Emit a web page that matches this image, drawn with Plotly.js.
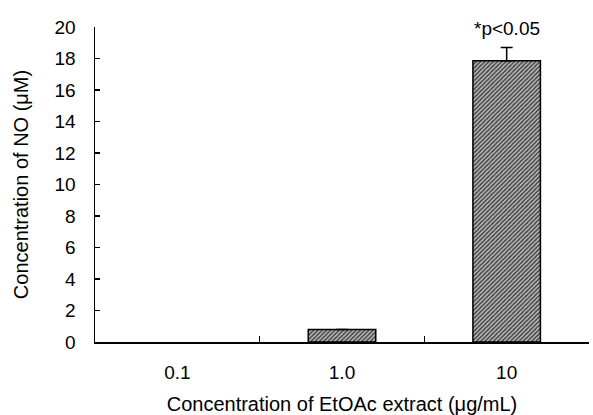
<!DOCTYPE html>
<html>
<head>
<meta charset="utf-8">
<script src="https://cdn.plot.ly/plotly-3.0.1.min.js"></script>
<style>html,body{margin:0;padding:0;background:#fff;}#chart{width:593px;height:415px;}</style>
</head>
<body>
<div id="chart"></div>
<script>
const categories = ["0.1", "1.0", "10"];
const noValues = [0, 0.8, 17.85];
const errValues = [0, 0, 0.85];
const yTicks = [0, 2, 4, 6, 8, 10, 12, 14, 16, 18, 20];
const sigLabel = "*p<0.05";
const xTitle = "Concentration of EtOAc extract (μg/mL)";
const yTitle = "Concentration of NO (μM)";

const font = "Liberation Sans, Arial, sans-serif";
const sigIndex = categories.length - 1;

const trace = {
  type: "bar",
  x: categories,
  y: noValues.map(v => v > 0 ? v : null),
  width: 0.41,
  marker: {
    color: "#9a9a9a",
    line: {color: "#000", width: 1.5},
    pattern: {shape: "/", fgcolor: "#383838", bgcolor: "#bababa", size: 3, solidity: 0.45}
  },
  error_y: {type: "data", array: errValues, arrayminus: errValues.map(() => 0), symmetric: false,
            visible: true, color: "#000", thickness: 1.5, width: 6},
  hoverinfo: "none"
};

const layout = {
  width: 593, height: 415,
  margin: {l: 95, r: 4, t: 27, b: 73},
  paper_bgcolor: "#fff", plot_bgcolor: "#fff",
  showlegend: false,
  font: {family: font, size: 19, color: "#000"},
  xaxis: {
    type: "category",
    tickson: "boundaries",
    ticks: "inside", ticklen: 6, tickwidth: 1.2, tickcolor: "#000",
    showline: true, linecolor: "#000", linewidth: 1.5,
    showgrid: false, zeroline: false,
    ticklabelstandoff: 13,
    tickfont: {family: font, size: 19},
    title: {text: xTitle, font: {family: font, size: 20}, standoff: 14},
    range: [-0.5, 2.5]
  },
  yaxis: {
    range: [0, 20],
    tickvals: yTicks,
    ticks: "inside", ticklen: 5, tickwidth: 1.2, tickcolor: "#000",
    showline: true, linecolor: "#000", linewidth: 1.5,
    showgrid: false, zeroline: false,
    ticklabelstandoff: 14,
    tickfont: {family: font, size: 19},
    title: {text: yTitle, font: {family: font, size: 20}, standoff: 20}
  },
  annotations: [{
    x: sigIndex, y: noValues[sigIndex] + errValues[sigIndex],
    xref: "x", yref: "y",
    text: sigLabel, showarrow: false,
    yanchor: "bottom", yshift: 6,
    font: {family: font, size: 19, color: "#000"}
  }]
};

Plotly.newPlot("chart", [trace], layout, {staticPlot: true, displayModeBar: false});
</script>
</body>
</html>
